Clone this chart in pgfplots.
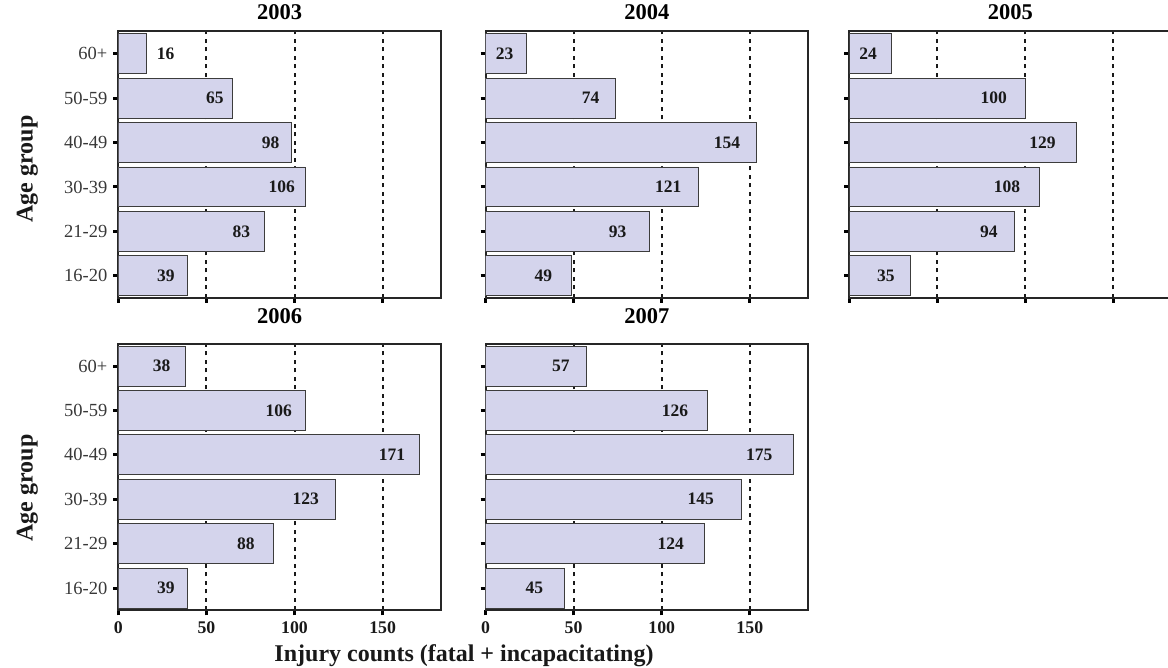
\documentclass[border=0pt]{standalone}
\usepackage{fontspec}
\setmainfont{Liberation Serif}
\usepackage{pgfplots}
\pgfplotsset{compat=1.18}
\usepackage{pgfplotstable}

\definecolor{barfill}{RGB}{212,212,236}
\definecolor{baredge}{RGB}{60,60,60}

% y: 0=16-20 ... 5=60+ ; v: value ; lx: label position
\pgfplotstableread{
y v lx
5 16 26.9
4 65 54.8
3 98 86.4
2 106 92.7
1 83 69.8
0 39 27
}\dataA
\pgfplotstableread{
y v lx
5 23 10.9
4 74 59.6
3 154 137
2 121 103.7
1 93 75
0 49 32.8
}\dataB
\pgfplotstableread{
y v lx
5 24 10.9
4 100 82.1
3 129 109.8
2 108 89.7
1 94 79.4
0 35 20.9
}\dataC
\pgfplotstableread{
y v lx
5 38 24.6
4 106 91.1
3 171 155.3
2 123 106.3
1 88 72.4
0 39 27
}\dataD
\pgfplotstableread{
y v lx
5 57 42.8
4 126 107.5
3 175 155.4
2 145 122.2
1 124 105.1
0 45 27.7
}\dataE

\pgfplotsset{
  panel/.style={
    scale only axis, width=322.5pt, height=266.5pt,
    anchor=north west,
    xmin=0, xmax=183, ymin=-0.5, ymax=5.5,
    axis line style={line width=2pt, black!85},
    xtick={0,50,100,150}, ytick={0,1,2,3,4,5},
    xtick pos=bottom, ytick pos=left,
    tick align=outside, major tick length=5pt,
    tick style={line width=3pt, black},
    xmajorgrids,
    major x grid style={line width=2pt, black!90, dash pattern=on 4pt off 4.5pt},
    xticklabels={}, yticklabels={},
    title style={at={(0.5,1)}, anchor=base, yshift=6pt, font=\fontsize{22.5}{27}\selectfont\bfseries},
    yticklabel style={anchor=east, xshift=-2.5pt, font=\fontsize{18.5}{22}\selectfont, text=black!78},
    xticklabel style={anchor=base, yshift=-18pt, font=\fontsize{17.8}{21}\selectfont\bfseries, text=black!90},
  },
  leftcol/.style={yticklabels={16-20,21-29,30-39,40-49,50-59,60+}},
  bottomrow/.style={xticklabels={0,50,100,150}},
  bars/.style={xbar, bar width=0.9, bar shift=0pt, fill=barfill, draw=baredge, line width=0.9pt},
  vals/.style={only marks, mark=*, mark size=0pt, mark options={draw=none, fill=none},
    nodes near coords, point meta=explicit symbolic,
    every node near coord/.append style={anchor=center, font=\fontsize{17.5}{20}\selectfont\bfseries, text=black!90}},
}

\begin{document}
\begin{tikzpicture}
\begin{axis}[panel, leftcol, at={(118.3pt,-31.5pt)}, title={2003}]
  \addplot[bars] table[x=v, y=y] {\dataA};
  \addplot[vals] table[x=lx, y=y, meta=v] {\dataA};
\end{axis}
\begin{axis}[panel, at={(485.5pt,-31.5pt)}, title={2004}]
  \addplot[bars] table[x=v, y=y] {\dataB};
  \addplot[vals] table[x=lx, y=y, meta=v] {\dataB};
\end{axis}
\begin{axis}[panel, at={(849pt,-31.5pt)}, title={2005}]
  \addplot[bars] table[x=v, y=y] {\dataC};
  \addplot[vals] table[x=lx, y=y, meta=v] {\dataC};
\end{axis}
\begin{axis}[panel, leftcol, bottomrow, at={(118.3pt,-343.8pt)}, title={2006}, title style={yshift=8.5pt}]
  \addplot[bars] table[x=v, y=y] {\dataD};
  \addplot[vals] table[x=lx, y=y, meta=v] {\dataD};
\end{axis}
\begin{axis}[panel, bottomrow, at={(485.5pt,-343.8pt)}, title={2007}, title style={yshift=8.5pt}]
  \addplot[bars] table[x=v, y=y] {\dataE};
  \addplot[vals] table[x=lx, y=y, meta=v] {\dataE};
\end{axis}
\node[rotate=90, anchor=base, font=\fontsize{24}{28}\selectfont\bfseries, text=black!90] at (32.5pt,-169pt) {Age group};
\node[rotate=90, anchor=base, font=\fontsize{24}{28}\selectfont\bfseries, text=black!90] at (32.5pt,-488pt) {Age group};
\node[anchor=base, font=\fontsize{24}{28}\selectfont\bfseries, text=black!90] at (464pt,-661.7pt) {Injury counts (fatal + incapacitating)};
\pgfresetboundingbox
\path[use as bounding box] (0pt,0pt) rectangle (1168pt,-668pt);
\end{tikzpicture}
\end{document}
